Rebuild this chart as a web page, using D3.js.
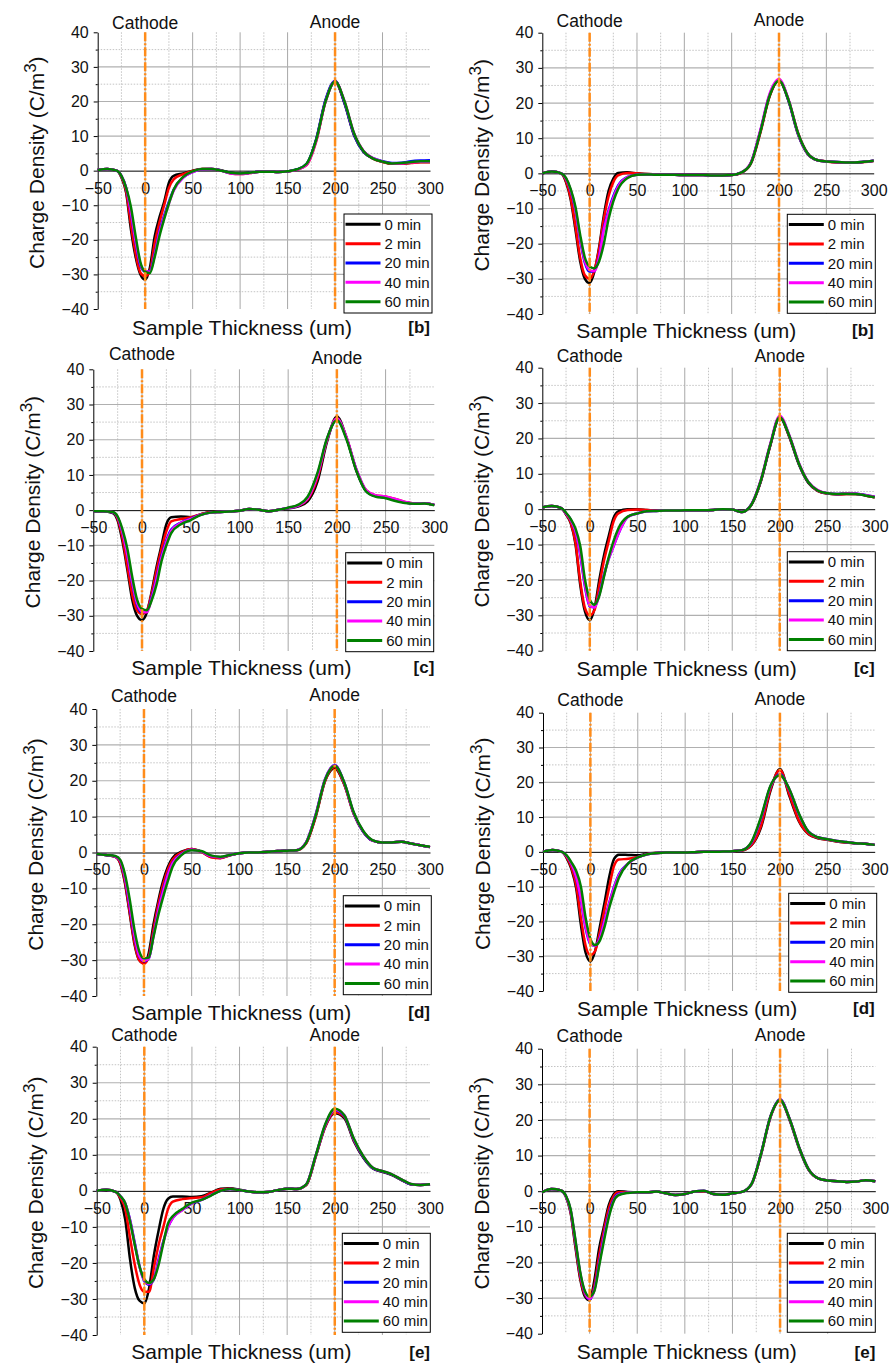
<!DOCTYPE html>
<html lang="en">
<head>
<meta charset="utf-8">
<title>Space charge profiles</title>
<script src="https://d3js.org/d3.v7.min.js"></script>
<style>
  body { margin: 0; background: #fff; }
  svg text { font-family: "Liberation Sans", Arial, sans-serif; fill: #111; }
</style>
</head>
<body>
<script>
// sample positions (um), shared by every curve
const thickness = [-50,-40,-30,-25,-20,-15,-10,-5,
                   0,5,10,15,20,25,30,40,
                   50,60,70,80,90,100,110,120,
                   130,140,150,160,170,180,190,200,
                   210,220,230,240,250,260,270,280,290,300];

const times   = ["0 min", "2 min", "20 min", "40 min", "60 min"];
const colours = ["#000000", "#ff0000", "#0000ff", "#ff00ff", "#008000"];
const panelTags = ["[b]", "[b]", "[c]", "[c]", "[d]", "[d]", "[e]", "[e]"];
const xTicks = [-50, 0, 50, 100, 150, 200, 250, 300];
const yTicks = [-40, -30, -20, -10, 0, 10, 20, 30, 40];

// charge density (C/m3), one row per time: 0, 2, 20, 40, 60 min
const panelB1 = [
  [0.2,0.5,0,-2,-6.5,-17,-25,-30, -31.5,-28,-19,-13.5,-9,-3.5,-1.5,-0.8, 0,0.5,0.5,0.1,-0.6,-0.8,-0.6,-0.3, -0.3,-0.4,-0.2,0.3,1.8,8.8,20.3,25.8, 19.4,10.2,5.4,3.5,2.6,2.0,2.0,2.3,2.5,2.5],
  [0.2,0.5,0,-1.8,-6,-15.5,-24,-29.5, -30.5,-29,-21,-15,-10,-5,-2.5,-1, -0.1,0.5,0.5,0,-0.8,-1,-0.7,-0.3, -0.3,-0.4,-0.2,0.3,1.6,8.3,20,25.8, 19.8,10.6,5.6,3.5,2.5,2,2,2.2,2.4,2.4],
  [0.2,0.5,0,-1.5,-5,-12.5,-21,-27.5, -29.2,-29,-24,-17.5,-13,-9,-5.5,-2, -0.4,0.4,0.5,0,-0.7,-0.9,-0.6,-0.3, -0.3,-0.4,-0.2,0.4,2,9,20.5,26, 19.5,10.4,5.5,3.6,2.7,2.2,2.3,2.7,2.9,3],
  [0.2,0.5,0,-1.5,-5,-12,-20.5,-27, -29,-29.2,-24.5,-18,-13.5,-9.5,-5.8,-2, -0.4,0.4,0.5,0,-0.8,-1,-0.7,-0.3, -0.3,-0.4,-0.2,0.3,1.7,8.5,20,25.8, 20,10.8,5.7,3.6,2.6,2.1,2.1,2.4,2.6,2.6],
  [0.2,0.5,0,-1.5,-5,-10.5,-19,-26.5, -29.2,-29.6,-25,-19,-14,-9.5,-5.5,-1.8, -0.2,0.5,0.5,0,-0.6,-0.8,-0.6,-0.3, -0.3,-0.4,-0.2,0.4,2,8.8,20,25.8, 20,10.8,5.6,3.5,2.6,2.1,2.2,2.5,2.7,2.7]
];
const panelB2 = [
  [0,0.5,0,-2.5,-7.5,-16,-25,-30, -31.2,-28,-21,-12,-5,-1.5,0.1,0.3, 0,-0.2,-0.3,-0.4,-0.4,-0.5,-0.5,-0.5, -0.6,-0.6,-0.5,0.2,2.8,11.6,22,26.4, 20.6,11.2,5.6,3.8,3.4,3.2,3.1,3.1,3.3,3.6],
  [0,0.5,0,-2.2,-7,-15,-24,-29, -30,-27.5,-21.5,-13,-6.5,-2.5,-0.6,0.1, 0,-0.2,-0.3,-0.4,-0.4,-0.5,-0.5,-0.5, -0.6,-0.6,-0.5,0.1,2.6,11.2,21.8,26.4, 20.9,11.6,5.8,3.8,3.4,3.1,3,3,3.2,3.5],
  [0,0.5,0,-1.5,-5,-10.5,-19,-25.5, -28,-27.8,-23.5,-15.5,-10.5,-6.5,-3.5,-1, -0.4,-0.3,-0.4,-0.4,-0.4,-0.5,-0.5,-0.5, -0.6,-0.6,-0.5,0.2,2.8,11.8,22.3,26.6, 20.8,11.3,5.7,3.8,3.4,3.2,3.1,3.1,3.3,3.6],
  [0,0.5,0,-1.5,-4.8,-10.2,-18.5,-25, -27.5,-27.8,-23.8,-16,-11,-7,-3.8,-1.1, -0.4,-0.3,-0.4,-0.4,-0.4,-0.5,-0.5,-0.5, -0.6,-0.6,-0.5,0.2,2.9,12,22.6,26.8, 21,11.4,5.7,3.8,3.4,3.2,3.1,3.1,3.3,3.6],
  [0,0.5,0,-1.3,-4.5,-9.5,-17.5,-24, -26.5,-27,-25,-20,-13,-8,-4.5,-1.3, -0.4,-0.3,-0.4,-0.4,-0.4,-0.5,-0.5,-0.5, -0.6,-0.6,-0.5,0.2,2.7,11.5,22,26.3, 20.9,11.5,5.8,3.8,3.4,3.2,3.1,3.1,3.3,3.6]
];
const panelC1 = [
  [-0.3,-0.3,-0.8,-3,-9,-17,-25.5,-30, -31.2,-29,-23,-16,-10,-4,-2,-1.8, -2,-1.2,-0.5,-0.5,-0.4,-0.2,0.3,0.1, -0.3,0.1,0.5,1,2.5,8,19.5,26.6, 20.5,11.2,5.5,4,3.6,2.9,2.2,1.9,1.9,1.5],
  [-0.3,-0.3,-0.6,-2.5,-8,-16,-24,-28.5, -29.5,-28.5,-23.5,-17,-11,-6,-3.2,-2.5, -2,-1.2,-0.6,-0.5,-0.4,-0.2,0.3,0.1, -0.3,0.1,0.6,1.2,3,9,20,26, 20.5,11.5,5.7,4.2,3.9,3.2,2.3,1.9,1.9,1.5],
  [-0.3,-0.3,-0.6,-2,-6.5,-13,-21,-27, -29,-28.8,-24.5,-19,-13,-8.5,-5.5,-3.5, -2.4,-1.3,-0.7,-0.5,-0.4,-0.2,0.3,0.1, -0.3,0.1,0.6,1.3,3.4,10,20.3,25.8, 20.3,11.5,5.5,4,3.6,3,2.2,1.9,1.9,1.5],
  [-0.3,-0.3,-0.6,-2,-6.3,-12.8,-20.5,-26.5, -28.8,-29,-25,-19.5,-13.5,-9,-5.8,-3.6, -2.5,-1.3,-0.7,-0.5,-0.4,-0.2,0.3,0.1, -0.3,0.1,0.6,1.3,3.3,9.8,20.2,26, 20.6,11.6,5.7,4.2,3.9,3.2,2.3,1.9,1.9,1.5],
  [-0.3,-0.3,-0.5,-1.8,-5.5,-11,-19,-25.5, -28,-28.4,-25.5,-21,-14.5,-10,-6.5,-4, -2.8,-1.4,-0.7,-0.5,-0.4,-0.2,0.3,0.1, -0.3,0.1,0.7,1.5,3.8,10.5,20.5,25.5, 20,11.2,5.3,3.8,3.4,2.6,2,1.8,1.9,1.4]
];
const panelC2 = [
  [0.5,0.9,0.3,-1.5,-4,-10,-21.5,-29, -31.4,-28,-20,-13,-7.5,-2.5,-0.6,0, 0,-0.2,-0.4,-0.4,-0.4,-0.3,-0.3,-0.3, -0.2,0,-0.1,-0.8,1.2,7.8,18,26, 20.5,12.8,7.5,5.2,4.4,4.2,4.3,4.3,3.9,3.4],
  [0.5,0.9,0.3,-1.4,-3.8,-9.5,-20.5,-28, -30,-28.5,-21.5,-14.5,-9,-3.5,-1.2,-0.2, -0.1,-0.2,-0.4,-0.4,-0.4,-0.3,-0.3,-0.3, -0.2,0,-0.1,-0.8,1.2,7.8,18,26, 20.6,12.9,7.6,5.2,4.4,4.2,4.3,4.3,3.9,3.4],
  [0.5,0.9,0.3,-1.2,-3,-6.5,-13,-22, -27.5,-27.7,-24,-18.5,-14,-10.5,-7,-2.2, -1.2,-0.6,-0.5,-0.4,-0.4,-0.3,-0.3,-0.3, -0.2,0,-0.1,-0.8,1.3,8,18.2,26.2, 20.8,13,7.7,5.3,4.5,4.3,4.4,4.4,4,3.5],
  [0.5,0.9,0.3,-1.2,-3,-6.3,-12.5,-21.5, -27.3,-27.8,-24.2,-18.8,-14,-10.5,-7,-2.2, -1.2,-0.6,-0.5,-0.4,-0.4,-0.3,-0.3,-0.3, -0.2,0,-0.1,-0.8,1.3,8.2,18.5,26.4, 21,13.2,7.8,5.4,4.5,4.3,4.5,4.4,4,3.5],
  [0.5,0.9,0.3,-1,-2.8,-5.5,-10.5,-20, -25.5,-27,-24.5,-19,-13.5,-9,-5.5,-2.1, -1.2,-0.6,-0.5,-0.4,-0.4,-0.3,-0.3,-0.3, -0.2,0,-0.1,-0.8,1.2,8,18.2,26, 20.8,13,7.7,5.3,4.5,4.3,4.4,4.3,3.9,3.4]
];
const panelD1 = [
  [-0.4,-0.7,-1.2,-3,-8.5,-17,-25.5,-30, -30.9,-28,-20,-13.5,-8,-4,-1.5,0.3, 1,0.3,-1.2,-1.5,-0.8,-0.2,0,0, 0.2,0.4,0.5,0.6,2.6,10,20,23.5, 19,10.8,5.8,3.3,2.8,2.8,3,2.5,2,1.5],
  [-0.4,-0.7,-1.2,-2.8,-8,-16.5,-25,-30, -31,-29,-21.5,-14.5,-9,-4.8,-2,0.1, 1,0.2,-1.3,-1.6,-0.8,-0.2,0,0, 0.2,0.4,0.5,0.6,2.5,9.8,20,23.8, 19,10.8,5.8,3.3,2.8,2.8,3,2.5,2,1.5],
  [-0.4,-0.7,-1.1,-2.3,-7,-15,-23.5,-29, -30.3,-29.5,-23,-16,-10.5,-6,-2.8,-0.3, 0.8,0.3,-1,-1.3,-0.7,-0.2,0,0, 0.2,0.4,0.5,0.6,2.8,10.5,20.5,24.4, 19.5,11,5.8,3.3,2.8,2.8,3,2.5,2,1.5],
  [-0.4,-0.7,-1.1,-2.2,-6.8,-14.5,-23,-28.8, -30.2,-29.5,-23.3,-16.3,-11,-6.3,-3,-0.4, 0.8,0.3,-1,-1.3,-0.7,-0.2,0,0, 0.2,0.4,0.5,0.6,2.8,10.4,20.4,24.3, 19.5,11,5.9,3.3,2.8,2.8,3,2.5,2,1.5],
  [-0.4,-0.7,-1,-2,-6,-13,-21.5,-27.5, -29.5,-29.3,-23.5,-17.5,-12.5,-8,-4,-0.6, 0.6,0.4,-0.8,-1.2,-0.7,-0.2,0,0, 0.2,0.4,0.5,0.6,2.7,10.2,20.3,24.2, 19.6,11.2,6,3.4,2.8,2.8,3,2.5,2,1.6]
];
const panelD2 = [
  [0,0.5,0,-1.8,-5,-10.5,-21,-29, -31.5,-28.5,-21.5,-14.5,-7,-2,-0.8,-0.9, -1,-0.5,-0.3,-0.2,-0.2,-0.2,-0.1,0, 0,0.1,0.2,0.4,1.9,7,17.5,23.8, 16,8.8,5.1,3.9,3.5,3,2.7,2.5,2.3,2],
  [0,0.5,0,-1.6,-4.5,-9.5,-19,-27, -29.7,-28.5,-23,-16.5,-10,-4,-2.2,-2, -1.5,-0.6,-0.3,-0.2,-0.2,-0.2,-0.1,0, 0,0.1,0.2,0.4,2,7.5,18,23.5, 16.5,9,5.2,4,3.5,3,2.7,2.5,2.3,2],
  [0,0.5,0,-1.2,-3.5,-7.5,-14,-22, -26.5,-27,-24.5,-19.5,-14.5,-10,-6.5,-3.3, -1.6,-0.7,-0.3,-0.2,-0.2,-0.2,-0.1,0, 0,0.1,0.2,0.5,2.6,9.5,18.8,22.3, 17.8,10.8,5.8,4.2,3.6,3.1,2.8,2.5,2.3,2],
  [0,0.5,0,-1.2,-3.4,-7.2,-13.5,-21.5, -26.3,-27,-24.8,-19.8,-14.8,-10.3,-6.8,-3.3, -1.6,-0.7,-0.3,-0.2,-0.2,-0.2,-0.1,0, 0,0.1,0.2,0.5,2.7,9.7,18.8,22, 17.9,10.9,5.8,4.2,3.6,3.1,2.8,2.5,2.3,2],
  [0,0.5,0,-1,-3,-5.5,-10,-19, -25,-26.8,-25.5,-21.5,-16,-11.5,-7.5,-3.3, -1.6,-0.7,-0.3,-0.2,-0.2,-0.2,-0.1,0, 0,0.1,0.2,0.5,2.9,10,19,22, 18,11,5.8,4.2,3.6,3.1,2.8,2.5,2.3,2]
];
const panelE1 = [
  [0,0.3,-0.3,-2.5,-8,-19,-27,-30.5, -31.2,-27,-18,-11,-5,-2.2,-1.6,-1.6, -1.7,-1.5,-0.5,0.6,0.7,0.3,-0.2,-0.4, -0.3,0.2,0.6,0.5,1.6,9.5,17.8,21.5, 20.2,13.8,9.2,6.2,5.3,4.4,3,1.8,1.6,1.8],
  [0,0.3,-0.3,-2,-5,-13,-20.5,-26, -28,-28,-21.5,-15,-10,-5,-3,-2.3, -2,-1.8,-0.6,0.4,0.6,0.2,-0.2,-0.4, -0.3,0.2,0.6,0.5,1.6,9.5,17.8,21.8, 20.5,14,9.4,6.3,5.4,4.5,3.1,1.8,1.6,1.8],
  [0,0.3,-0.3,-1.5,-3.5,-8,-14.5,-21, -25,-26,-24.5,-19,-14,-10,-7.5,-5.3, -3.5,-2.5,-1.2,0,0.5,0.2,-0.2,-0.4, -0.3,0.2,0.6,0.5,1.8,9.8,18.2,22.4, 20.8,14.2,9.4,6.3,5.4,4.5,3.1,1.8,1.6,1.8],
  [0,0.3,-0.3,-1.5,-3.5,-8.2,-14.8,-21, -24.8,-25.8,-24.5,-19.5,-14.2,-10,-7.5,-5.3, -3.4,-2.5,-1.2,0,0.5,0.2,-0.2,-0.4, -0.3,0.2,0.6,0.5,1.8,9.8,18.3,22.5, 21,14.4,9.6,6.4,5.5,4.6,3.2,1.9,1.6,1.8],
  [0,0.3,-0.3,-1.5,-3.5,-8.5,-15,-21, -24.5,-25.6,-24.5,-20.5,-14.5,-9,-7,-5, -3.3,-2.5,-1.3,0,0.5,0.2,-0.2,-0.4, -0.3,0.2,0.6,0.5,1.8,9.8,18.5,22.8, 21,14.5,9.6,6.4,5.5,4.6,3.2,1.9,1.6,1.8]
];
const panelE2 = [
  [-0.3,0.6,0.2,-1.5,-6,-15.5,-24.5,-29.5, -30.6,-25,-16,-10,-4,-1,0,-0.2, -0.3,-0.3,-0.1,-0.6,-1.1,-0.8,-0.1,0, -0.8,-1,-0.6,-0.2,2,10.5,21,25.5, 20,12,6,3.6,3,2.8,2.6,2.7,3.1,2.8],
  [-0.3,0.6,0.2,-1.4,-5.8,-15,-24,-29, -30.3,-26.5,-18,-11,-5,-1.5,-0.3,-0.3, -0.3,-0.3,-0.1,-0.6,-1.1,-0.8,-0.1,0, -0.8,-1,-0.6,-0.2,1.9,10.3,20.8,25.5, 20.2,12.2,6.1,3.6,3,2.8,2.6,2.7,3.1,2.8],
  [-0.3,0.6,0.2,-1.3,-5.3,-14,-23,-28.5, -30.3,-27.5,-20,-12.5,-6.5,-2.5,-0.8,-0.4, -0.3,-0.3,-0.1,-0.6,-1.1,-0.8,-0.1,0.1, -0.8,-1,-0.6,-0.2,2,10.5,21,25.8, 20.3,12.3,6.1,3.6,3,2.8,2.6,2.7,3.1,2.8],
  [-0.3,0.6,0.2,-1.3,-5.2,-13.8,-22.8,-28.3, -30.2,-27.8,-20.5,-13,-7,-2.8,-1,-0.4, -0.3,-0.3,-0.1,-0.6,-1.1,-0.8,-0.1,0.1, -0.8,-1,-0.6,-0.2,2,10.4,21,25.7, 20.3,12.3,6.1,3.6,3,2.8,2.6,2.7,3.1,2.8],
  [-0.3,0.6,0.2,-1.2,-5,-13.5,-22.5,-28, -29.6,-28,-21,-14,-7.5,-3,-1.2,-0.5, -0.3,-0.3,-0.1,-0.6,-1.1,-0.8,-0.1,0.1, -0.8,-1,-0.6,-0.2,2,10.4,21,25.6, 20.3,12.3,6.1,3.6,3,2.8,2.6,2.7,3.1,2.8]
];
const panelData = [panelB1, panelB2, panelC1, panelC2, panelD1, panelD2, panelE1, panelE2];

// where each panel sits on the page (plot box, label rows, legend corner)
const frames = [
  {l: 97.7,  r: 430,   t: 32.3,   b: 309,    cy: 22.7,   ay: 21.7,   xt: 327,    lx: 344,   ly: 214},
  {l: 542.3, r: 873.7, t: 32.7,   b: 314,    cy: 20.7,   ay: 19.3,   xt: 330,    lx: 787.3, ly: 214.3},
  {l: 93.3,  r: 434.3, t: 369.3,  b: 651,    cy: 353.3,  ay: 357.3,  xt: 667.3,  lx: 345.7, ly: 552.7},
  {l: 542.3, r: 874.7, t: 367.7,  b: 650.7,  cy: 355.7,  ay: 355.7,  xt: 668,    lx: 787.3, ly: 551.7},
  {l: 96.3,  r: 430,   t: 709,    b: 996,    cy: 695.7,  ay: 694.3,  xt: 1012.3, lx: 343.3, ly: 895.7},
  {l: 543,   r: 874.7, t: 712.7,  b: 991,    cy: 699.3,  ay: 698.7,  xt: 1008,   lx: 788.7, ly: 893.3},
  {l: 96.7,  r: 430,   t: 1046.7, b: 1335,   cy: 1035,   ay: 1035,   xt: 1351.7, lx: 342.3, ly: 1233.3},
  {l: 542,   r: 875.3, t: 1048.7, b: 1333.7, cy: 1036,   ay: 1035,   xt: 1351.7, lx: 787.3, ly: 1233.3}
];

const svg = d3.select("body").append("svg")
    .attr("width", 893)
    .attr("height", 1365);

frames.forEach((f, i) => {
    const g = svg.append("g");
    const x = d3.scaleLinear().domain([-50, 300]).range([f.l, f.r]);
    const y = d3.scaleLinear().domain([-40, 40]).range([f.b, f.t]);

    // dotted minor grid
    g.selectAll(".vminor").data(d3.range(-25, 300, 50)).join("line")
        .attr("x1", d => x(d)).attr("x2", d => x(d))
        .attr("y1", y(40)).attr("y2", y(-40))
        .attr("stroke", "#c4c4c4").attr("stroke-dasharray", "1.5,1.5");
    g.selectAll(".hminor").data(d3.range(-35, 40, 10)).join("line")
        .attr("x1", x(-50)).attr("x2", x(300))
        .attr("y1", d => y(d)).attr("y2", d => y(d))
        .attr("stroke", "#c4c4c4").attr("stroke-dasharray", "1.5,1.5");

    // solid major grid
    g.selectAll(".vmajor").data(xTicks.filter(v => v > -50 && v < 300)).join("line")
        .attr("x1", d => x(d)).attr("x2", d => x(d))
        .attr("y1", y(40)).attr("y2", y(-40))
        .attr("stroke", "#a8a8a8");
    g.selectAll(".hmajor").data(yTicks.filter(v => v !== 0 && Math.abs(v) < 40)).join("line")
        .attr("x1", x(-50)).attr("x2", x(300))
        .attr("y1", d => y(d)).attr("y2", d => y(d))
        .attr("stroke", "#b0b0b0").attr("stroke-width", 1.2);

    // left axis with major and minor ticks
    const yAxis = g.append("g")
        .attr("transform", `translate(${f.l},0)`)
        .call(d3.axisLeft(y).tickValues(yTicks).tickSize(4).tickPadding(5).tickSizeOuter(0));
    g.append("g")
        .attr("transform", `translate(${f.l},0)`)
        .call(d3.axisLeft(y).tickValues(d3.range(-35, 40, 10)).tickSize(2).tickFormat("").tickSizeOuter(0))
        .select(".domain").remove();

    // horizontal axis drawn on the zero line
    const xAxis = g.append("g")
        .attr("transform", `translate(0,${y(0)})`)
        .call(d3.axisBottom(x).tickValues(xTicks).tickSize(0).tickPadding(11.6).tickSizeOuter(0));

    [yAxis, xAxis].forEach(a => {
        a.attr("font-family", null).attr("font-size", null);
        a.selectAll("text").attr("font-size", 16).attr("fill", "#111");
        a.selectAll("line, path").attr("stroke", "#000");
    });

    // charge profiles
    const line = d3.line()
        .x((d, j) => x(thickness[j]))
        .y(d => y(d))
        .curve(d3.curveMonotoneX);
    g.selectAll(".profile").data(panelData[i]).join("path")
        .attr("d", line)
        .attr("fill", "none")
        .attr("stroke", (d, k) => colours[k])
        .attr("stroke-width", 2.5)
        .attr("stroke-linejoin", "round");

    // electrode markers
    g.selectAll(".electrode").data([0, 200]).join("line")
        .attr("x1", d => x(d)).attr("x2", d => x(d))
        .attr("y1", y(40)).attr("y2", y(-40))
        .attr("stroke", "#ff8c1a").attr("stroke-width", 2.5)
        .attr("stroke-dasharray", "9,2,2,2");

    g.append("text").attr("x", x(0)).attr("y", f.cy + 6.3)
        .attr("text-anchor", "middle").attr("font-size", 17.5).text("Cathode");
    g.append("text").attr("x", x(200)).attr("y", f.ay + 6.3)
        .attr("text-anchor", "middle").attr("font-size", 17.5).text("Anode");

    // axis titles
    g.append("text").attr("x", x(102)).attr("y", f.xt + 7.5)
        .attr("text-anchor", "middle").attr("font-size", 21)
        .text("Sample Thickness (um)");
    g.append("text").attr("x", f.r).attr("y", f.xt + 6)
        .attr("text-anchor", "end").attr("font-size", 17).attr("font-weight", "bold")
        .text(panelTags[i]);

    const yt = g.append("text")
        .attr("transform", `translate(${f.l - 61},${(f.t + f.b) / 2 - 8}) rotate(-90)`)
        .attr("text-anchor", "middle").attr("dy", "0.36em").attr("font-size", 21);
    yt.append("tspan").text("Charge Density (C/m");
    yt.append("tspan").attr("dy", -8).attr("font-size", 17).text("3");
    yt.append("tspan").attr("dy", 8).text(")");

    // legend
    const lg = g.append("g").attr("transform", `translate(${f.lx},${f.ly})`);
    lg.append("rect").attr("width", 88).attr("height", 99)
        .attr("fill", "#fff").attr("stroke", "#000").attr("stroke-width", 1);
    times.forEach((t, k) => {
        const ry = 10.3 + k * 19.35;
        lg.append("line").attr("x1", 1.5).attr("x2", 36.5).attr("y1", ry).attr("y2", ry)
            .attr("stroke", colours[k]).attr("stroke-width", 3);
        lg.append("text").attr("x", 40.5).attr("y", ry + 5.3)
            .attr("font-size", 15).text(t);
    });
});
</script>
</body>
</html>
